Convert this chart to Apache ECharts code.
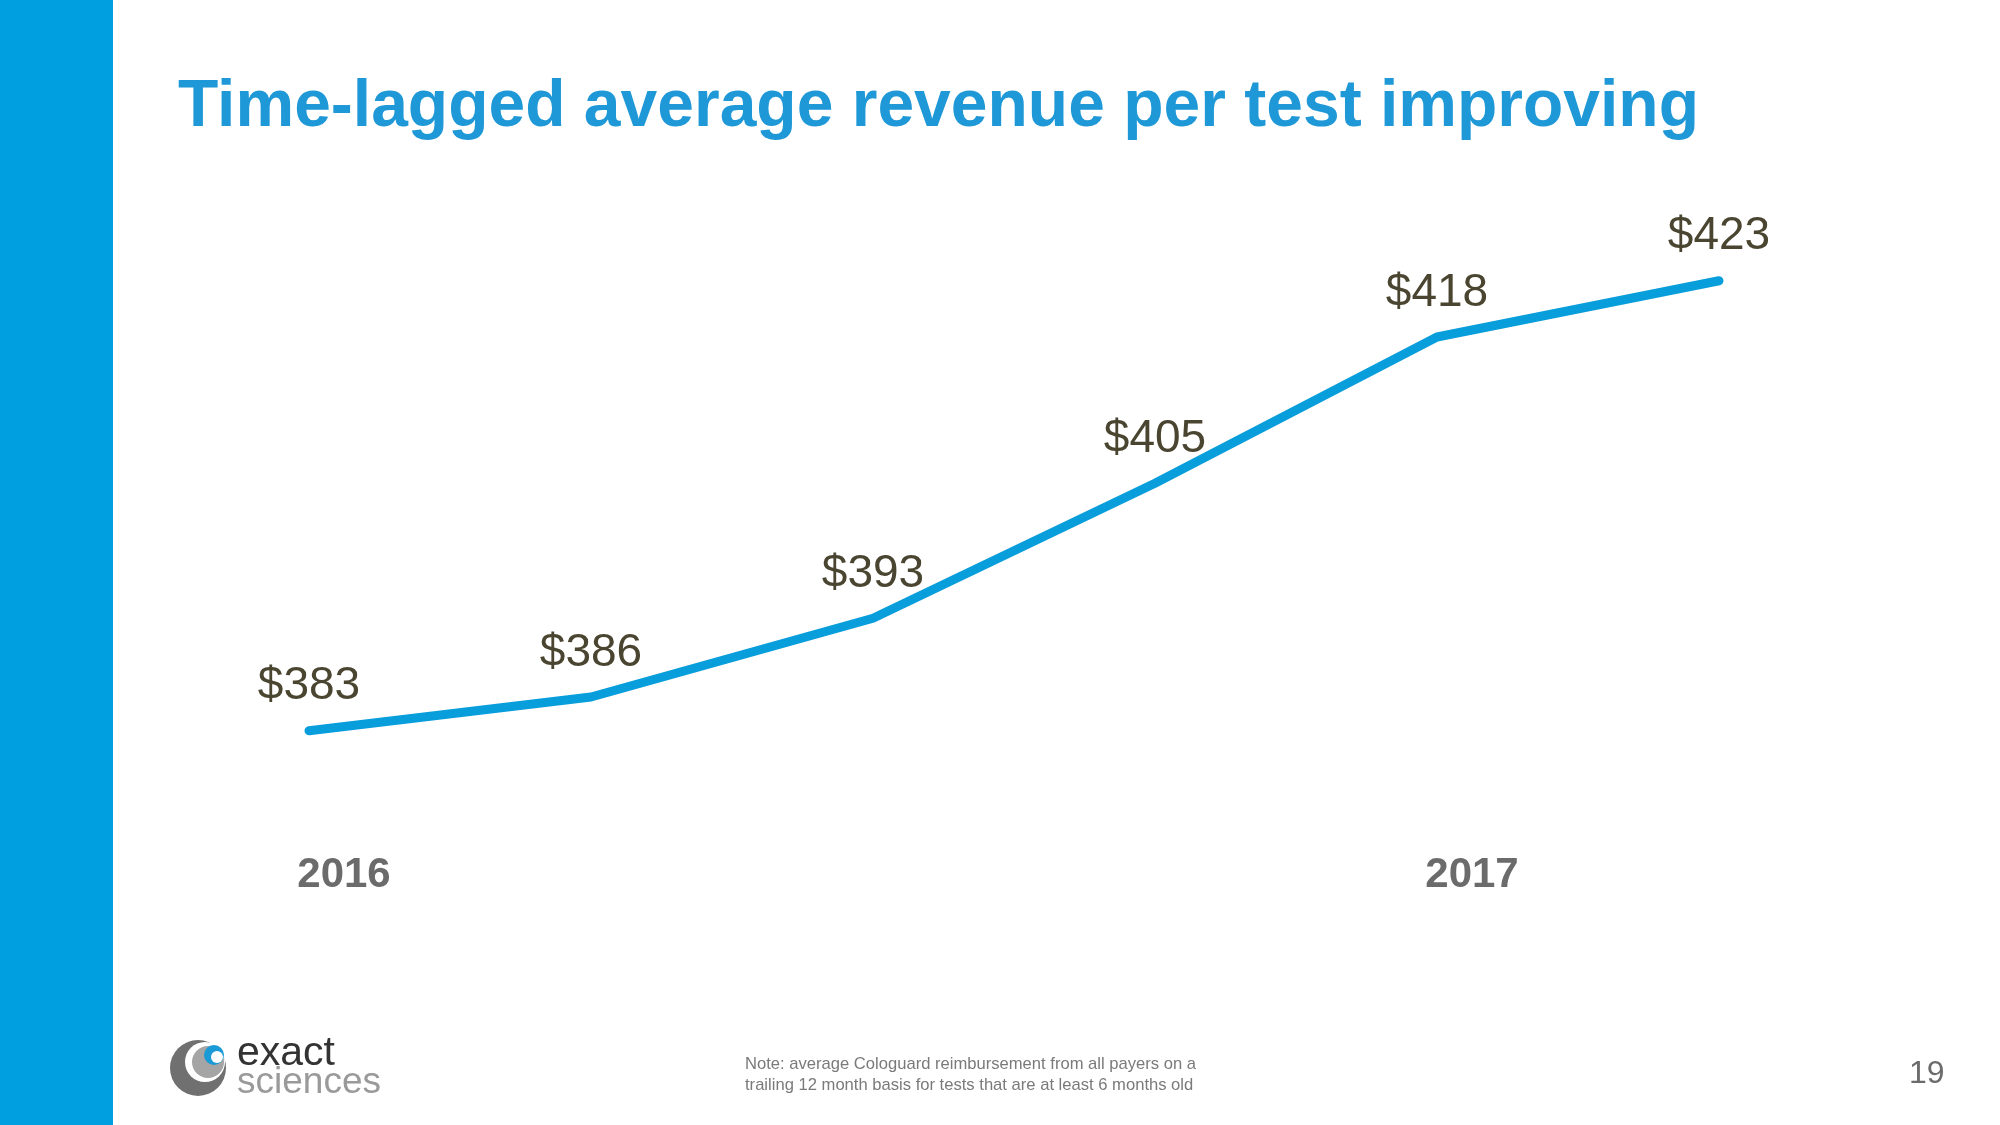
<!DOCTYPE html>
<html>
<head>
<meta charset="utf-8">
<script src="https://cdn.jsdelivr.net/npm/echarts@6/dist/echarts.min.js"></script>
<style>
html,body{margin:0;padding:0;background:#fff;}
#chart{width:2000px;height:1125px;}
</style>
</head>
<body>
<div id="chart"></div>
<script>
// Data
var periods = ["Q1 2016", "Q2 2016", "Q3 2016", "Q4 2016", "Q1 2017", "Q2 2017"];
var yearLabels = ["2016", "", "", "", "2017", ""];
var revenuePerTest = [383, 386, 393, 405, 418, 423];
var titleText = "Time-lagged average revenue per test improving";
var noteLines = ["Note: average Cologuard reimbursement from all payers on a", "trailing 12 month basis for tests that are at least 6 months old"];
var pageNumber = "19";

var chart = echarts.init(document.getElementById('chart'), null, {renderer: 'canvas'});
var option = {
  backgroundColor: '#ffffff',
  animation: false,
  title: {
    text: titleText,
    left: 173,
    top: 70,
    textStyle: {
      fontFamily: 'Liberation Sans, Arial, sans-serif',
      fontSize: 66,
      fontWeight: 'bold',
      color: '#1f98d7'
    }
  },
  grid: {left: 168, top: 202, width: 1692, height: 630},
  xAxis: {
    type: 'category',
    data: periods,
    boundaryGap: true,
    axisLine: {show: false},
    axisTick: {show: false},
    splitLine: {show: false},
    axisLabel: {
      interval: 0,
      margin: 22,
      padding: [0, 0, 0, 70],
      formatter: function (v, i) { return yearLabels[i]; },
      fontFamily: 'Liberation Sans, Arial, sans-serif',
      fontSize: 42,
      fontWeight: 'bold',
      color: '#6b6b6b'
    }
  },
  yAxis: {
    type: 'value',
    min: 374,
    max: 430,
    show: false
  },
  series: [{
    type: 'line',
    data: revenuePerTest,
    symbol: 'circle',
    symbolSize: 2,
    showSymbol: true,
    itemStyle: {color: '#089ddb'},
    lineStyle: {color: '#089ddb', width: 9, cap: 'round', join: 'round'},
    label: {
      show: true,
      position: 'top',
      distance: 20,
      formatter: function (p) { return '$' + p.value; },
      fontFamily: 'Liberation Sans, Arial, sans-serif',
      fontSize: 46,
      color: '#4a4530'
    }
  }],
  graphic: [
    {type: 'rect', left: 0, top: 0, shape: {x: 0, y: 0, width: 113, height: 1125}, style: {fill: '#009fdf'}},
    // logo
    {type: 'circle', shape: {cx: 198, cy: 1068, r: 28}, style: {fill: '#707070'}},
    {type: 'circle', shape: {cx: 205, cy: 1062, r: 20}, style: {fill: '#ffffff'}},
    {type: 'circle', shape: {cx: 208, cy: 1062, r: 16}, style: {fill: '#a5a5a5'}},
    {type: 'circle', shape: {cx: 214, cy: 1055, r: 10}, style: {fill: '#1a9ad6'}},
    {type: 'circle', shape: {cx: 217, cy: 1057, r: 6}, style: {fill: '#ffffff'}},
    {type: 'text', left: 237, top: 1033, style: {text: 'exact', font: '300 41px "Liberation Sans", Arial, sans-serif', fill: '#333333'}},
    {type: 'text', left: 237, top: 1064, style: {text: 'sciences', font: '300 37px "Liberation Sans", Arial, sans-serif', fill: '#9a9a9a'}},
    // note
    {type: 'text', left: 745, top: 1056, style: {text: noteLines[0], font: '16.6px "Liberation Sans", Arial, sans-serif', fill: '#7a7a7a'}},
    {type: 'text', left: 745, top: 1077, style: {text: noteLines[1], font: '16.6px "Liberation Sans", Arial, sans-serif', fill: '#7a7a7a'}},
    // page number
    {type: 'text', left: 1909, top: 1058, style: {text: pageNumber, font: '32px "Liberation Sans", Arial, sans-serif', fill: '#6b6b6b'}}
  ]
};
chart.setOption(option);
</script>
</body>
</html>
